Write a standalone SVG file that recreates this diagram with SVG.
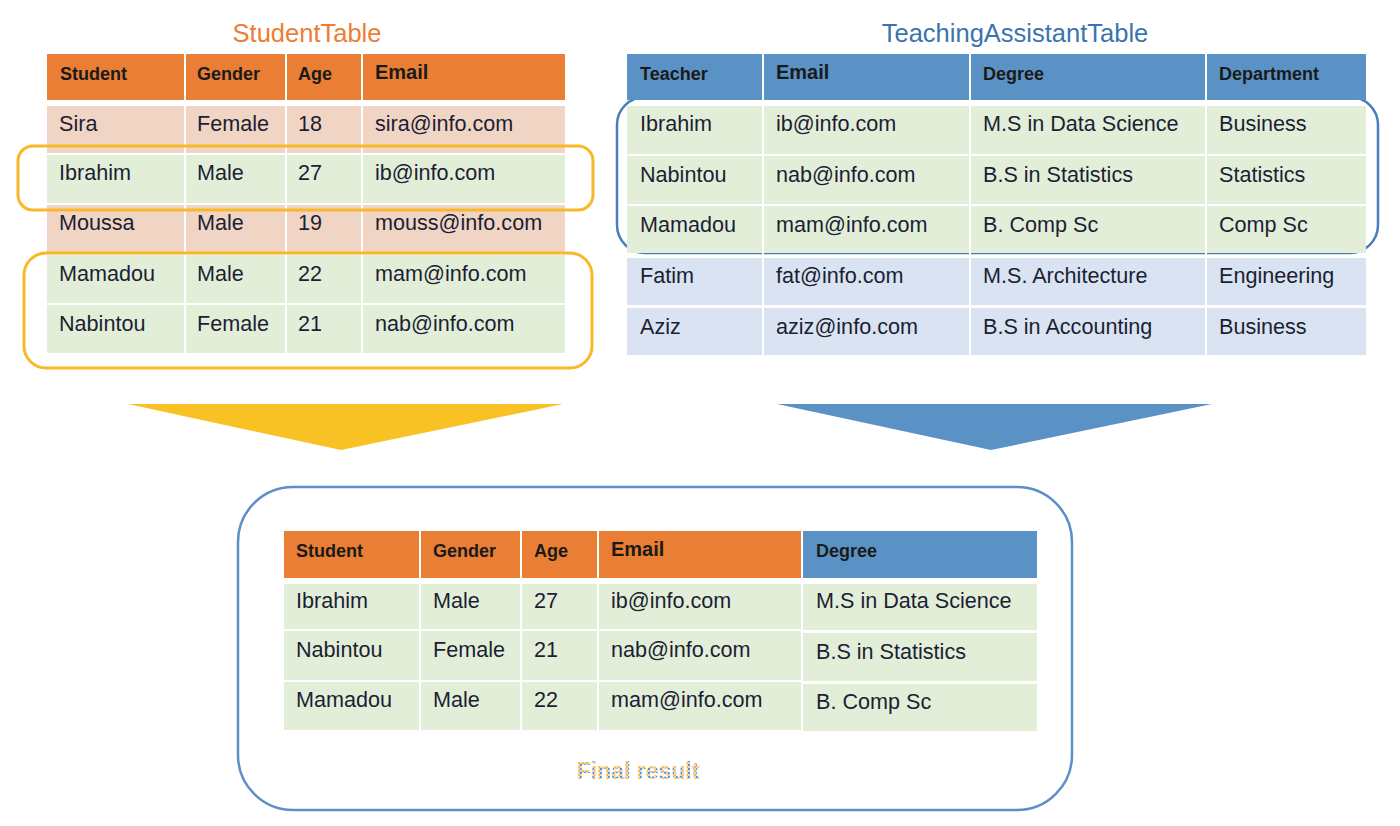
<svg xmlns="http://www.w3.org/2000/svg" width="1400" height="826" viewBox="0 0 1400 826">
<defs>
<style>
.ho{fill:#E97E34}
.hb{fill:#5B92C5}
.pe{fill:#F0D4C4}
.gr{fill:#E3EED9}
.lb{fill:#D9E3F1}
.h{font-family:"Liberation Sans",Arial,sans-serif;font-weight:bold;font-size:18px;fill:#1a1a1a}
.he{font-family:"Liberation Sans",Arial,sans-serif;font-weight:bold;font-size:20px;fill:#1a1a1a}
.t{font-family:"Liberation Sans",Arial,sans-serif;font-size:21.6px;fill:#1b1f33}
.ttl{font-family:"Liberation Sans",Arial,sans-serif;font-size:25.5px;text-anchor:middle}
.sep{stroke:#ffffff;stroke-width:2}
</style>
<pattern id="dith" width="4" height="4" patternUnits="userSpaceOnUse">
<rect width="4" height="4" fill="#E9D6C0"/>
<rect x="0" y="0" width="2" height="2" fill="#5B92C5"/>
<rect x="2" y="2" width="2" height="2" fill="#F6B93A"/>
</pattern>
</defs>
<rect width="1400" height="826" fill="#ffffff"/>

<g id="student-table">
<text class="ttl" x="307" y="42" fill="#ED7D31">StudentTable</text>
<rect class="ho" x="47" y="54" width="518" height="46"/>
<rect class="pe" x="47" y="106" width="518" height="47"/>
<rect class="gr" x="47" y="155" width="518" height="48"/>
<rect class="pe" x="47" y="205" width="518" height="48"/>
<rect class="gr" x="47" y="255" width="518" height="48"/>
<rect class="gr" x="47" y="305" width="518" height="48"/>
<line class="sep" x1="185" y1="54" x2="185" y2="353"/>
<line class="sep" x1="286" y1="54" x2="286" y2="353"/>
<line class="sep" x1="362" y1="54" x2="362" y2="353"/>
<text class="h" x="60" y="80">Student</text>
<text class="h" x="197" y="80">Gender</text>
<text class="h" x="298" y="80">Age</text>
<text class="he" x="375" y="79">Email</text>
<text class="t" x="59" y="131">Sira</text><text class="t" x="197" y="131">Female</text><text class="t" x="298" y="131">18</text><text class="t" x="375" y="131">sira@info.com</text>
<text class="t" x="59" y="180">Ibrahim</text><text class="t" x="197" y="180">Male</text><text class="t" x="298" y="180">27</text><text class="t" x="375" y="180">ib@info.com</text>
<text class="t" x="59" y="230">Moussa</text><text class="t" x="197" y="230">Male</text><text class="t" x="298" y="230">19</text><text class="t" x="375" y="230">mouss@info.com</text>
<text class="t" x="59" y="281">Mamadou</text><text class="t" x="197" y="281">Male</text><text class="t" x="298" y="281">22</text><text class="t" x="375" y="281">mam@info.com</text>
<text class="t" x="59" y="331">Nabintou</text><text class="t" x="197" y="331">Female</text><text class="t" x="298" y="331">21</text><text class="t" x="375" y="331">nab@info.com</text>
</g>

<g id="student-highlights" fill="none" stroke="#F9B82A" stroke-width="3">
<rect x="18" y="146" width="575" height="64" rx="15"/>
<rect x="24" y="253" width="568" height="115" rx="22"/>
</g>

<g id="ta-table">
<text class="ttl" x="1015" y="42" fill="#3B73B0">TeachingAssistantTable</text>
<rect x="617" y="97" width="761" height="156" rx="28" fill="none" stroke="#4A7EBB" stroke-width="2.5"/>
<rect class="hb" x="627" y="54" width="739" height="46"/>
<rect class="gr" x="627" y="106" width="739" height="48"/>
<rect class="gr" x="627" y="156" width="739" height="48"/>
<rect class="gr" x="627" y="206" width="739" height="47"/>
<rect class="lb" x="627" y="258" width="739" height="47"/>
<rect class="lb" x="627" y="308" width="739" height="47"/>
<line class="sep" x1="763" y1="54" x2="763" y2="355"/>
<line class="sep" x1="970" y1="54" x2="970" y2="355"/>
<line class="sep" x1="1206" y1="54" x2="1206" y2="355"/>
<text class="h" x="640" y="80">Teacher</text>
<text class="he" x="776" y="79">Email</text>
<text class="h" x="983" y="80">Degree</text>
<text class="h" x="1219" y="80">Department</text>
<text class="t" x="640" y="131">Ibrahim</text><text class="t" x="776" y="131">ib@info.com</text><text class="t" x="983" y="131">M.S in Data Science</text><text class="t" x="1219" y="131">Business</text>
<text class="t" x="640" y="182">Nabintou</text><text class="t" x="776" y="182">nab@info.com</text><text class="t" x="983" y="182">B.S in Statistics</text><text class="t" x="1219" y="182">Statistics</text>
<text class="t" x="640" y="232">Mamadou</text><text class="t" x="776" y="232">mam@info.com</text><text class="t" x="983" y="232">B. Comp Sc</text><text class="t" x="1219" y="232">Comp Sc</text>
<text class="t" x="640" y="283">Fatim</text><text class="t" x="776" y="283">fat@info.com</text><text class="t" x="983" y="283">M.S. Architecture</text><text class="t" x="1219" y="283">Engineering</text>
<text class="t" x="640" y="334">Aziz</text><text class="t" x="776" y="334">aziz@info.com</text><text class="t" x="983" y="334">B.S in Accounting</text><text class="t" x="1219" y="334">Business</text>
</g>

<g id="connectors">
<polygon points="128,404 563,404 341,450" fill="#F8C224"/>
<polygon points="777,404 1212,404 991,450" fill="#5B92C5"/>
</g>

<g id="final-result">
<rect x="238" y="487" width="834" height="323" rx="55" fill="none" stroke="#5B8FC7" stroke-width="2.5"/>
<rect class="ho" x="284" y="531" width="517" height="47"/>
<rect class="hb" x="803" y="531" width="234" height="47"/>
<rect class="gr" x="284" y="584" width="517" height="45"/>
<rect class="gr" x="284" y="631" width="517" height="49"/>
<rect class="gr" x="284" y="682" width="517" height="48"/>
<rect class="gr" x="803" y="584" width="234" height="46"/>
<rect class="gr" x="803" y="633" width="234" height="48"/>
<rect class="gr" x="803" y="684" width="234" height="47"/>
<line class="sep" x1="420" y1="531" x2="420" y2="730"/>
<line class="sep" x1="521" y1="531" x2="521" y2="730"/>
<line class="sep" x1="598" y1="531" x2="598" y2="730"/>
<text class="h" x="296" y="557">Student</text>
<text class="h" x="433" y="557">Gender</text>
<text class="h" x="534" y="557">Age</text>
<text class="he" x="611" y="556">Email</text>
<text class="h" x="816" y="557">Degree</text>
<text class="t" x="296" y="608">Ibrahim</text><text class="t" x="433" y="608">Male</text><text class="t" x="534" y="608">27</text><text class="t" x="611" y="608">ib@info.com</text><text class="t" x="816" y="608">M.S in Data Science</text>
<text class="t" x="296" y="657">Nabintou</text><text class="t" x="433" y="657">Female</text><text class="t" x="534" y="657">21</text><text class="t" x="611" y="657">nab@info.com</text><text class="t" x="816" y="659">B.S in Statistics</text>
<text class="t" x="296" y="707">Mamadou</text><text class="t" x="433" y="707">Male</text><text class="t" x="534" y="707">22</text><text class="t" x="611" y="707">mam@info.com</text><text class="t" x="816" y="709">B. Comp Sc</text>
<text x="638" y="779" text-anchor="middle" font-family="'Liberation Sans',Arial,sans-serif" font-size="23" font-weight="bold" fill="url(#dith)">Final result</text>
</g>
</svg>
